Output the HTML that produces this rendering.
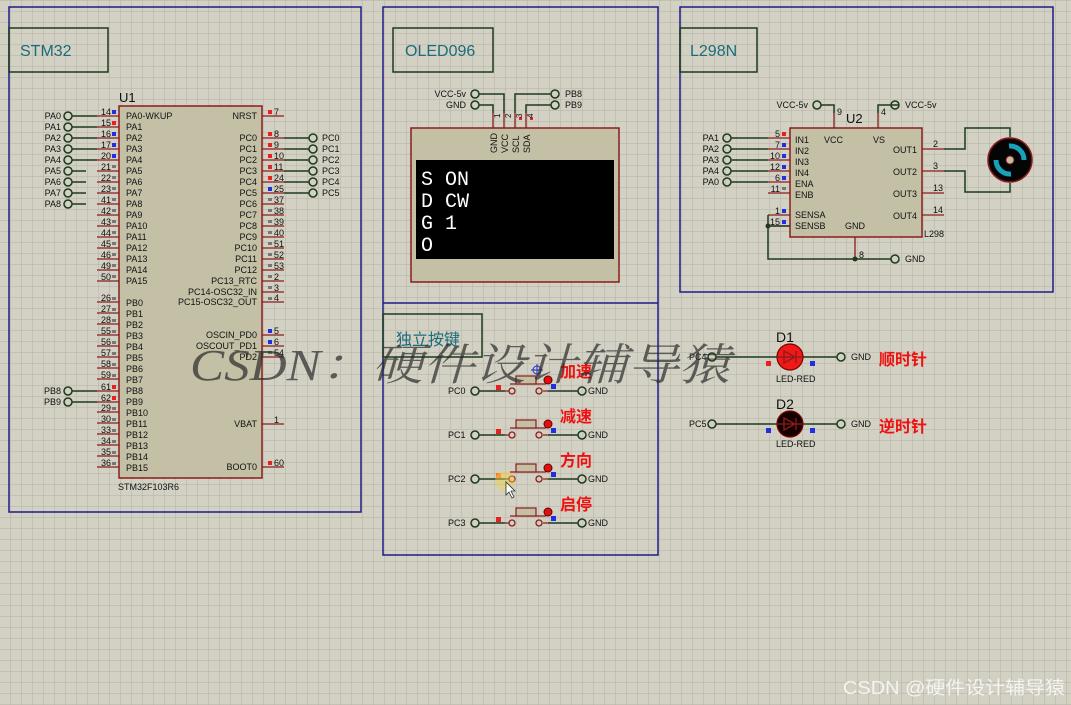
<!DOCTYPE html>
<html><head><meta charset="utf-8"><style>
html,body{margin:0;padding:0;width:1071px;height:705px;overflow:hidden;background:#d2d1c4}
svg{display:block}
text{font-family:"Liberation Sans","Noto Sans CJK SC",sans-serif}
</style></head><body>
<svg width="1071" height="705" xmlns="http://www.w3.org/2000/svg">
<defs>
<pattern id="g" x="10" y="0" width="11" height="11" patternUnits="userSpaceOnUse">
<path d="M0 0V11M0 0H11" stroke="#b3b1a5" stroke-width="1" fill="none"/>
</pattern>
</defs>
<rect width="1071" height="705" fill="#d2d1c4"/>
<rect width="1071" height="705" fill="url(#g)"/>

<!-- frames -->
<g fill="none" stroke="#1c1c8a" stroke-width="1.5">
<rect x="9" y="7" width="352" height="505"/>
<rect x="383" y="7" width="275" height="548"/>
<line x1="383" y1="303" x2="658" y2="303"/>
<rect x="680" y="7" width="373" height="285"/>
</g>
<g fill="none" stroke="#1c3a1c" stroke-width="1.5">
<rect x="9" y="28" width="99" height="44"/>
<rect x="393" y="28" width="100" height="44"/>
<rect x="680" y="28" width="77" height="44"/>
<rect x="383" y="314" width="99" height="43"/>
</g>
<g fill="#1b6b7b" font-size="16">
<text x="20" y="56">STM32</text>
<text x="405" y="56">OLED096</text>
<text x="690" y="56">L298N</text>
<text x="396" y="345">独立按键</text>
</g>

<!-- U1 -->
<text x="119" y="102" font-size="13" fill="#111">U1</text>
<rect x="119" y="106" width="143" height="372" fill="#c3c0a6" stroke="#8b1c1c" stroke-width="1.5"/>
<text x="118" y="490" font-size="9" fill="#111">STM32F103R6</text>
<g stroke="#8b1c1c" stroke-width="1.3">
<path d="M97 116H119M97 127H119M97 138H119M97 149H119M97 160H119M97 171H119M97 182H119M97 193H119M97 204H119M97 215H119M97 226H119M97 237H119M97 248H119M97 259H119M97 270H119M97 281H119"/>
<path d="M97 302H119M97 313H119M97 324H119M97 335H119M97 346H119M97 357H119M97 368H119M97 379H119M97 391H119M97 402H119M97 412H119M97 423H119M97 434H119M97 445H119M97 456H119M97 467H119"/>
<path d="M262 116H284M262 138H284M262 149H284M262 160H284M262 171H284M262 182H284M262 193H284M262 204H284M262 215H284M262 226H284M262 237H284M262 248H284M262 259H284M262 270H284M262 281H284M262 292H284M262 302H284M262 335H284M262 346H284M262 357H284M262 424H284M262 467H284"/>
</g>
<g font-size="9" fill="#111" text-anchor="end">
<text x="111" y="115">14</text><text x="111" y="126">15</text><text x="111" y="137">16</text><text x="111" y="148">17</text><text x="111" y="159">20</text><text x="111" y="170">21</text><text x="111" y="181">22</text><text x="111" y="192">23</text><text x="111" y="203">41</text><text x="111" y="214">42</text><text x="111" y="225">43</text><text x="111" y="236">44</text><text x="111" y="247">45</text><text x="111" y="258">46</text><text x="111" y="269">49</text><text x="111" y="280">50</text>
<text x="111" y="301">26</text><text x="111" y="312">27</text><text x="111" y="323">28</text><text x="111" y="334">55</text><text x="111" y="345">56</text><text x="111" y="356">57</text><text x="111" y="367">58</text><text x="111" y="378">59</text><text x="111" y="390">61</text><text x="111" y="401">62</text><text x="111" y="411">29</text><text x="111" y="422">30</text><text x="111" y="433">33</text><text x="111" y="444">34</text><text x="111" y="455">35</text><text x="111" y="466">36</text>
</g>
<g font-size="9" fill="#111">
<text x="126" y="119">PA0-WKUP</text><text x="126" y="130">PA1</text><text x="126" y="141">PA2</text><text x="126" y="152">PA3</text><text x="126" y="163">PA4</text><text x="126" y="174">PA5</text><text x="126" y="185">PA6</text><text x="126" y="196">PA7</text><text x="126" y="207">PA8</text><text x="126" y="218">PA9</text><text x="126" y="229">PA10</text><text x="126" y="240">PA11</text><text x="126" y="251">PA12</text><text x="126" y="262">PA13</text><text x="126" y="273">PA14</text><text x="126" y="284">PA15</text>
<text x="126" y="306">PB0</text><text x="126" y="317">PB1</text><text x="126" y="328">PB2</text><text x="126" y="339">PB3</text><text x="126" y="350">PB4</text><text x="126" y="361">PB5</text><text x="126" y="372">PB6</text><text x="126" y="383">PB7</text><text x="126" y="394">PB8</text><text x="126" y="405">PB9</text><text x="126" y="416">PB10</text><text x="126" y="427">PB11</text><text x="126" y="438">PB12</text><text x="126" y="449">PB13</text><text x="126" y="460">PB14</text><text x="126" y="471">PB15</text>
</g>
<g font-size="9" fill="#111" text-anchor="end">
<text x="257" y="119">NRST</text><text x="257" y="141">PC0</text><text x="257" y="152">PC1</text><text x="257" y="163">PC2</text><text x="257" y="174">PC3</text><text x="257" y="185">PC4</text><text x="257" y="196">PC5</text><text x="257" y="207">PC6</text><text x="257" y="218">PC7</text><text x="257" y="229">PC8</text><text x="257" y="240">PC9</text><text x="257" y="251">PC10</text><text x="257" y="262">PC11</text><text x="257" y="273">PC12</text><text x="257" y="284">PC13_RTC</text><text x="257" y="295">PC14-OSC32_IN</text><text x="257" y="305">PC15-OSC32_OUT</text><text x="257" y="338">OSCIN_PD0</text><text x="257" y="349">OSCOUT_PD1</text><text x="257" y="360">PD2</text><text x="257" y="427">VBAT</text><text x="257" y="470">BOOT0</text>
</g>
<g font-size="9" fill="#111">
<text x="274" y="115">7</text><text x="274" y="137">8</text><text x="274" y="148">9</text><text x="274" y="159">10</text><text x="274" y="170">11</text><text x="274" y="181">24</text><text x="274" y="192">25</text><text x="274" y="203">37</text><text x="274" y="214">38</text><text x="274" y="225">39</text><text x="274" y="236">40</text><text x="274" y="247">51</text><text x="274" y="258">52</text><text x="274" y="269">53</text><text x="274" y="280">2</text><text x="274" y="291">3</text><text x="274" y="301">4</text><text x="274" y="334">5</text><text x="274" y="345">6</text><text x="274" y="356">54</text><text x="274" y="423">1</text><text x="274" y="466">60</text>
</g>
<!-- pin state squares -->
<g>
<rect x="112" y="110" width="4" height="4" fill="#2030e0"/><rect x="112" y="121" width="4" height="4" fill="#e82020"/><rect x="112" y="132" width="4" height="4" fill="#2030e0"/><rect x="112" y="143" width="4" height="4" fill="#2030e0"/><rect x="112" y="154" width="4" height="4" fill="#2030e0"/>
<rect x="112" y="385" width="4" height="4" fill="#e82020"/><rect x="112" y="396" width="4" height="4" fill="#e82020"/>
<rect x="268" y="110" width="4" height="4" fill="#e82020"/><rect x="268" y="132" width="4" height="4" fill="#e82020"/><rect x="268" y="143" width="4" height="4" fill="#e82020"/><rect x="268" y="154" width="4" height="4" fill="#e82020"/><rect x="268" y="165" width="4" height="4" fill="#e82020"/><rect x="268" y="176" width="4" height="4" fill="#e82020"/><rect x="268" y="187" width="4" height="4" fill="#2030e0"/>
<rect x="268" y="329" width="4" height="4" fill="#2030e0"/><rect x="268" y="340" width="4" height="4" fill="#2030e0"/><rect x="268" y="461" width="4" height="4" fill="#e82020"/>
</g>
<g fill="#777">
<rect x="112" y="165" width="4" height="3"/><rect x="112" y="176" width="4" height="3"/><rect x="112" y="187" width="4" height="3"/><rect x="112" y="198" width="4" height="3"/><rect x="112" y="209" width="4" height="3"/><rect x="112" y="220" width="4" height="3"/><rect x="112" y="231" width="4" height="3"/><rect x="112" y="242" width="4" height="3"/><rect x="112" y="253" width="4" height="3"/><rect x="112" y="264" width="4" height="3"/><rect x="112" y="275" width="4" height="3"/>
<rect x="112" y="297" width="4" height="3"/><rect x="112" y="308" width="4" height="3"/><rect x="112" y="319" width="4" height="3"/><rect x="112" y="330" width="4" height="3"/><rect x="112" y="341" width="4" height="3"/><rect x="112" y="352" width="4" height="3"/><rect x="112" y="363" width="4" height="3"/><rect x="112" y="374" width="4" height="3"/><rect x="112" y="407" width="4" height="3"/><rect x="112" y="418" width="4" height="3"/><rect x="112" y="429" width="4" height="3"/><rect x="112" y="440" width="4" height="3"/><rect x="112" y="451" width="4" height="3"/><rect x="112" y="462" width="4" height="3"/>
<rect x="268" y="198" width="4" height="3"/><rect x="268" y="209" width="4" height="3"/><rect x="268" y="220" width="4" height="3"/><rect x="268" y="231" width="4" height="3"/><rect x="268" y="242" width="4" height="3"/><rect x="268" y="253" width="4" height="3"/><rect x="268" y="264" width="4" height="3"/><rect x="268" y="275" width="4" height="3"/><rect x="268" y="286" width="4" height="3"/><rect x="268" y="297" width="4" height="3"/><rect x="268" y="351" width="4" height="3"/>
</g>
<!-- U1 terminals -->
<g stroke="#1c3a1c" stroke-width="1.5" fill="none">
<path d="M72 116H97M72 127H97M72 138H97M72 149H97M72 160H97M72 171H86M72 182H86M72 193H86M72 204H86M72 391H97M72 402H97"/>
<circle cx="68" cy="116" r="4"/><circle cx="68" cy="127" r="4"/><circle cx="68" cy="138" r="4"/><circle cx="68" cy="149" r="4"/><circle cx="68" cy="160" r="4"/><circle cx="68" cy="171" r="4"/><circle cx="68" cy="182" r="4"/><circle cx="68" cy="193" r="4"/><circle cx="68" cy="204" r="4"/><circle cx="68" cy="391" r="4"/><circle cx="68" cy="402" r="4"/>
<path d="M284 138H309M284 149H309M284 160H309M284 171H309M284 182H309M284 193H309"/>
<circle cx="313" cy="138" r="4"/><circle cx="313" cy="149" r="4"/><circle cx="313" cy="160" r="4"/><circle cx="313" cy="171" r="4"/><circle cx="313" cy="182" r="4"/><circle cx="313" cy="193" r="4"/>
</g>
<g font-size="9" fill="#111" text-anchor="end">
<text x="61" y="119">PA0</text><text x="61" y="130">PA1</text><text x="61" y="141">PA2</text><text x="61" y="152">PA3</text><text x="61" y="163">PA4</text><text x="61" y="174">PA5</text><text x="61" y="185">PA6</text><text x="61" y="196">PA7</text><text x="61" y="207">PA8</text><text x="61" y="394">PB8</text><text x="61" y="405">PB9</text>
</g>
<g font-size="9" fill="#111">
<text x="322" y="141">PC0</text><text x="322" y="152">PC1</text><text x="322" y="163">PC2</text><text x="322" y="174">PC3</text><text x="322" y="185">PC4</text><text x="322" y="196">PC5</text>
</g>

<!-- OLED -->
<g stroke="#1c3a1c" stroke-width="1.5" fill="none">
<path d="M479 94H504V113M479 105H493V113M551 94H515V113M551 105H526V113"/>
<circle cx="475" cy="94" r="4"/><circle cx="475" cy="105" r="4"/><circle cx="555" cy="94" r="4"/><circle cx="555" cy="105" r="4"/>
</g>
<g stroke="#8b1c1c" stroke-width="1.3"><path d="M493 113V128M504 113V128M515 113V128M526 113V128"/></g>
<rect x="519" y="117" width="3" height="3" fill="#e82020"/><rect x="530" y="117" width="3" height="3" fill="#e82020"/>
<g font-size="9" fill="#111">
<text x="466" y="97" text-anchor="end">VCC-5v</text><text x="466" y="108" text-anchor="end">GND</text>
<text x="565" y="97">PB8</text><text x="565" y="108">PB9</text>
<text x="500" y="118" font-size="8" transform="rotate(-90 500 118)">1</text>
<text x="511" y="118" font-size="8" transform="rotate(-90 511 118)">2</text>
<text x="522" y="118" font-size="8" transform="rotate(-90 522 118)">3</text>
<text x="533" y="118" font-size="8" transform="rotate(-90 533 118)">4</text>
<text x="497" y="153" transform="rotate(-90 497 153)">GND</text>
<text x="508" y="153" transform="rotate(-90 508 153)">VCC</text>
<text x="519" y="153" transform="rotate(-90 519 153)">SCL</text>
<text x="530" y="153" transform="rotate(-90 530 153)">SDA</text>
</g>
<rect x="411" y="128" width="208" height="154" fill="#c3c0a6" stroke="#8b1c1c" stroke-width="1.5"/>
<g font-size="9" fill="#111">
<text x="497" y="153" transform="rotate(-90 497 153)">GND</text>
<text x="508" y="153" transform="rotate(-90 508 153)">VCC</text>
<text x="519" y="153" transform="rotate(-90 519 153)">SCL</text>
<text x="530" y="153" transform="rotate(-90 530 153)">SDA</text>
</g>
<rect x="416" y="160" width="198" height="99" fill="#000"/>
<g font-family="Liberation Mono, monospace" font-size="20" fill="#fff">
<text x="421" y="185" style="font-family:'Liberation Mono',monospace">S ON</text>
<text x="421" y="207" style="font-family:'Liberation Mono',monospace">D CW</text>
<text x="421" y="229" style="font-family:'Liberation Mono',monospace">G 1</text>
<text x="421" y="251" style="font-family:'Liberation Mono',monospace">O</text>
</g>

<!-- Buttons -->
<g id="btns">
<g stroke="#1c3a1c" stroke-width="1.5" fill="none">
<path d="M479 391H505M548 391H578M479 435H505M548 435H578M479 479H505M548 479H578M479 523H505M548 523H578"/>
<circle cx="475" cy="391" r="4"/><circle cx="582" cy="391" r="4"/>
<circle cx="475" cy="435" r="4"/><circle cx="582" cy="435" r="4"/>
<circle cx="475" cy="479" r="4"/><circle cx="582" cy="479" r="4"/>
<circle cx="475" cy="523" r="4"/><circle cx="582" cy="523" r="4"/>
</g>
<g stroke="#8b1c1c" stroke-width="1.3" fill="none">
<path d="M505 391H509M543 391H548M505 435H509M543 435H548M505 479H509M543 479H548M505 523H509M543 523H548"/>
<circle cx="512" cy="391" r="3"/><circle cx="539" cy="391" r="3"/>
<circle cx="512" cy="435" r="3"/><circle cx="539" cy="435" r="3"/>
<circle cx="512" cy="479" r="3"/><circle cx="539" cy="479" r="3"/>
<circle cx="512" cy="523" r="3"/><circle cx="539" cy="523" r="3"/>
<path d="M510 384H546M510 428H546M510 472H546M510 516H546"/>
</g>
<g fill="#c3c0a6" stroke="#8b1c1c" stroke-width="1.2">
<rect x="516" y="376" width="20" height="8"/><rect x="516" y="420" width="20" height="8"/><rect x="516" y="464" width="20" height="8"/><rect x="516" y="508" width="20" height="8"/>
</g>
<g fill="#e01010" stroke="#600" stroke-width="1">
<circle cx="548" cy="380" r="4"/><circle cx="548" cy="424" r="4"/><circle cx="548" cy="468" r="4"/><circle cx="548" cy="512" r="4"/>
</g>
<g fill="#e82020"><rect x="496" y="385" width="5" height="5"/><rect x="496" y="429" width="5" height="5"/><rect x="496" y="473" width="5" height="5" fill="#ff7020"/><rect x="496" y="517" width="5" height="5"/></g>
<g fill="#2030e0"><rect x="551" y="384" width="5" height="5"/><rect x="551" y="428" width="5" height="5"/><rect x="551" y="472" width="5" height="5"/><rect x="551" y="516" width="5" height="5"/></g>
<circle cx="505" cy="481" r="10" fill="#f0d040" opacity="0.45"/>
<path d="M506 482V495L509 492L512 498L514 497L511 491L515 491Z" fill="#fff" stroke="#333" stroke-width="0.8"/>
<g stroke="#2030c0" fill="none" stroke-width="1"><circle cx="537" cy="370" r="4"/><path d="M531 370H543M537 364V376"/></g>
<g font-size="9" fill="#111">
<text x="448" y="394">PC0</text><text x="448" y="438">PC1</text><text x="448" y="482">PC2</text><text x="448" y="526">PC3</text>
<text x="588" y="394">GND</text><text x="588" y="438">GND</text><text x="588" y="482">GND</text><text x="588" y="526">GND</text>
</g>
<g font-size="16" font-weight="bold" fill="#f01010">
<text x="560" y="377">加速</text><text x="560" y="422">减速</text><text x="560" y="466">方向</text><text x="560" y="510">启停</text>
</g>
</g>

<!-- L298 -->
<text x="846" y="123" font-size="13" fill="#111">U2</text>
<g stroke="#8b1c1c" stroke-width="1.3">
<path d="M834 113V128M878 113V128M768 138H790M768 149H790M768 160H790M768 171H790M768 182H790M768 193H790M768 215H790M768 226H790M922 149H944M922 171H944M922 193H944M922 215H944M855 237V259"/>
</g>
<rect x="790" y="128" width="132" height="109" fill="#c3c0a6" stroke="#8b1c1c" stroke-width="1.5"/>
<g stroke="#1c3a1c" stroke-width="1.5" fill="none">
<path d="M821 105H834V113M899 105H878V113M731 138H768M731 149H768M731 160H768M731 171H768M731 182H768M768 215V259H891M768 226H790"/>
<circle cx="817" cy="105" r="4"/><circle cx="895" cy="105" r="4"/>
<circle cx="727" cy="138" r="4"/><circle cx="727" cy="149" r="4"/><circle cx="727" cy="160" r="4"/><circle cx="727" cy="171" r="4"/><circle cx="727" cy="182" r="4"/>
<circle cx="895" cy="259" r="4"/>
<path d="M944 149H965V128H1010V137M944 171H965V192H1010V183"/>
</g>
<circle cx="768" cy="226" r="2.5" fill="#1c3a1c"/><circle cx="855" cy="259" r="2.5" fill="#1c3a1c"/>
<g fill="#2030e0"><rect x="782" y="143" width="4" height="4"/><rect x="782" y="154" width="4" height="4"/><rect x="782" y="165" width="4" height="4"/><rect x="782" y="176" width="4" height="4"/><rect x="782" y="209" width="4" height="4"/><rect x="782" y="220" width="4" height="4"/></g>
<rect x="782" y="132" width="4" height="4" fill="#e82020"/><rect x="782" y="187" width="4" height="3" fill="#777"/>
<g font-size="9" fill="#111">
<text x="808" y="108" text-anchor="end">VCC-5v</text><text x="905" y="108">VCC-5v</text>
<text x="837" y="115">9</text><text x="881" y="115">4</text>
<text x="719" y="141" text-anchor="end">PA1</text><text x="719" y="152" text-anchor="end">PA2</text><text x="719" y="163" text-anchor="end">PA3</text><text x="719" y="174" text-anchor="end">PA4</text><text x="719" y="185" text-anchor="end">PA0</text>
<text x="780" y="137" text-anchor="end">5</text><text x="780" y="148" text-anchor="end">7</text><text x="780" y="159" text-anchor="end">10</text><text x="780" y="170" text-anchor="end">12</text><text x="780" y="181" text-anchor="end">6</text><text x="780" y="192" text-anchor="end">11</text><text x="780" y="214" text-anchor="end">1</text><text x="780" y="225" text-anchor="end">15</text>
<text x="795" y="143">IN1</text><text x="795" y="154">IN2</text><text x="795" y="165">IN3</text><text x="795" y="176">IN4</text><text x="795" y="187">ENA</text><text x="795" y="198">ENB</text><text x="795" y="218">SENSA</text><text x="795" y="229">SENSB</text>
<text x="824" y="143">VCC</text><text x="873" y="143">VS</text><text x="845" y="229">GND</text>
<text x="917" y="153" text-anchor="end">OUT1</text><text x="917" y="175" text-anchor="end">OUT2</text><text x="917" y="197" text-anchor="end">OUT3</text><text x="917" y="219" text-anchor="end">OUT4</text>
<text x="924" y="237">L298</text>
<text x="933" y="147">2</text><text x="933" y="169">3</text><text x="933" y="191">13</text><text x="933" y="213">14</text>
<text x="859" y="258">8</text><text x="905" y="262">GND</text>
</g>
<circle cx="1010" cy="160" r="22" fill="#050505" stroke="#8b1c1c" stroke-width="1.5"/>
<path d="M1009 146A14 14 0 0 1 1024 160" stroke="#1aa0b8" stroke-width="5" fill="none"/>
<path d="M1011 174A14 14 0 0 1 996 160" stroke="#1aa0b8" stroke-width="5" fill="none"/>
<circle cx="1010" cy="160" r="4" fill="#c3c0a6" stroke="#8b1c1c"/>

<!-- LEDs -->
<g stroke="#1c3a1c" stroke-width="1.5" fill="none">
<path d="M716 357H778M802 357H837M716 424H778M802 424H837"/>
<circle cx="712" cy="357" r="4"/><circle cx="841" cy="357" r="4"/><circle cx="712" cy="424" r="4"/><circle cx="841" cy="424" r="4"/>
</g>
<circle cx="790" cy="357" r="13" fill="#f01818" stroke="#7a0000" stroke-width="1.2"/>
<circle cx="790" cy="424" r="13" fill="#140000" stroke="#7a0000" stroke-width="1.2"/>
<g stroke="#8b1c1c" stroke-width="1.3" fill="none">
<path d="M777 357H803M784 351V363L795 357Z M796 351V363M777 424H803M784 418V430L795 424Z M796 418V430"/>
</g>
<rect x="766" y="361" width="5" height="5" fill="#e82020"/><rect x="810" y="361" width="5" height="5" fill="#2030e0"/>
<rect x="766" y="428" width="5" height="5" fill="#2030e0"/><rect x="810" y="428" width="5" height="5" fill="#2030e0"/>
<g font-size="9" fill="#111">
<text x="776" y="382">LED-RED</text><text x="776" y="447">LED-RED</text>
<text x="689" y="360">PC4</text><text x="689" y="427">PC5</text>
<text x="851" y="360">GND</text><text x="851" y="427">GND</text>
</g>
<text x="776" y="342" font-size="14" fill="#111">D1</text>
<text x="776" y="409" font-size="14" fill="#111">D2</text>
<g font-size="16" font-weight="bold" fill="#f01010"><text x="879" y="365">顺时针</text><text x="879" y="432">逆时针</text></g>

<!-- watermark -->
<text x="190" y="380" font-size="44" fill="#2a2a2a" opacity="0.7" font-style="italic" style="font-family:'Liberation Serif','Noto Serif CJK SC',serif" textLength="540" lengthAdjust="spacingAndGlyphs">CSDN：硬件设计辅导猿</text>
<text x="843" y="694" font-size="18" fill="#f4f4f0" textLength="222" lengthAdjust="spacingAndGlyphs">CSDN @硬件设计辅导猿</text>
</svg>
</body></html>
